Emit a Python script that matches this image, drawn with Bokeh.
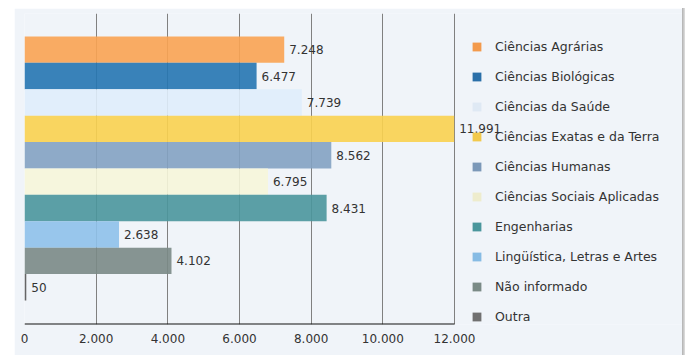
from bokeh.plotting import figure
from bokeh.models import (ColumnDataSource, Range1d, FixedTicker, CustomJSTickFormatter,
                          Legend, LegendItem, Spacer, LabelSet)
from bokeh.layouts import row, column
from bokeh.core.properties import value
from bokeh.embed import file_html
from bokeh.resources import INLINE

categories = ["Ciências Agrárias", "Ciências Biológicas", "Ciências da Saúde",
              "Ciências Exatas e da Terra", "Ciências Humanas", "Ciências Sociais Aplicadas",
              "Engenharias", "Lingüística, Letras e Artes", "Não informado", "Outra"]
values = [7248, 6477, 7739, 11991, 8562, 6795, 8431, 2638, 4102, 50]
labels = ["7.248", "6.477", "7.739", "11.991", "8.562", "6.795", "8.431", "2.638", "4.102", "50"]
colors = ["#f9a352", "#2575b1", "#dfedfb", "#f9d24f", "#83a2c2", "#f6f6d9",
          "#4a969c", "#8ec1ea", "#7a8a86", "#555555"]
legend_colors = ["#f39a4c", "#2a6fa8", "#dfe9f4", "#f2c94c", "#7b98b8", "#eeeccd",
                 "#4a969c", "#86bbe4", "#7a8a86", "#707070"]
x_ticks = [0, 2000, 4000, 6000, 8000, 10000, 12000]

PANEL = "#f0f4f9"
FONT = "DejaVu Sans"

# layout (pixels)
FIG_W, FIG_H = 668, 347
LEFT, TOP, BOTTOM = 10, 5, 31
AXIS_W = 430                      # pixels spanned by x_ticks[0]..x_ticks[-1]
FRAME_W = FIG_W - LEFT
X_END = x_ticks[-1] * FRAME_W / AXIS_W
NAN = float("nan")

idx = list(range(len(categories)))
src = ColumnDataSource(dict(
    cat=categories, val=values, lab=labels, col=colors,
    mid=[i + 0.5 for i in idx], zero=[0] * len(idx),
))

p = figure(width=FIG_W, height=FIG_H, output_backend="svg", toolbar_location=None,
           x_range=Range1d(0, X_END), y_range=Range1d(10.91, -0.87),
           y_axis_location=None,
           min_border_left=LEFT, min_border_right=0, min_border_top=TOP,
           min_border_bottom=BOTTOM)
p.background_fill_color = PANEL
p.border_fill_color = PANEL
p.outline_line_color = None

p.hbar(y="mid", left="zero", right="val", height=1.0, source=src,
       fill_color="col", fill_alpha=0.9, line_color=None)

# axis line limited to the tick span
p.segment(x0=[x_ticks[0]], x1=[x_ticks[-1]], y0=[10.91], y1=[10.91],
          line_color="#111111", line_width=2)

lbls = LabelSet(x="val", y="mid", text="lab", source=src, x_offset=5,
                text_baseline="middle", text_align="left", text_font=value(FONT),
                text_font_size=value("12px"), text_color="#333333")
p.add_layout(lbls)

# legend
items = []
for c, lc in zip(categories, legend_colors):
    r = p.quad(left=[NAN], right=[NAN], top=[NAN], bottom=[NAN],
               fill_color=lc, line_color=None)
    items.append(LegendItem(label=c, renderers=[r]))
legend = Legend(items=items, location=(447, -2), orientation="vertical")
legend.glyph_width = 11
legend.glyph_height = 11
legend.label_standoff = 13
legend.label_height = 20
legend.spacing = 10
legend.padding = 0
legend.margin = 0
legend.border_line_color = None
legend.background_fill_alpha = 0
legend.label_text_font = FONT
legend.label_text_font_size = "12.5px"
legend.label_text_color = "#333333"
legend.label_text_baseline = "middle"
p.add_layout(legend, "center")

p.xgrid.ticker = FixedTicker(ticks=x_ticks)
p.xgrid.grid_line_color = "#808080"
p.xgrid.grid_line_width = 1
p.ygrid.grid_line_color = None

ax = p.xaxis[0]
ax.ticker = FixedTicker(ticks=x_ticks)
ax.formatter = CustomJSTickFormatter(code="return tick.toLocaleString('de-DE');")
ax.axis_line_color = None
ax.major_tick_line_color = None
ax.minor_tick_line_color = None
ax.major_tick_out = 0
ax.major_tick_in = 0
ax.major_label_standoff = 9
ax.major_label_text_font = FONT
ax.major_label_text_font_size = "12px"
ax.major_label_text_color = "#333333"

edge = Spacer(width=3, height=FIG_H, styles={"background": "linear-gradient(to right, #b0b0b0, #c8c8c8, #e0e0e0)"})
layout = column(Spacer(height=8, width=690),
                row(Spacer(width=14, height=FIG_H), p, edge, spacing=0), spacing=0)

open("out.html", "w").write(file_html(layout, INLINE))
